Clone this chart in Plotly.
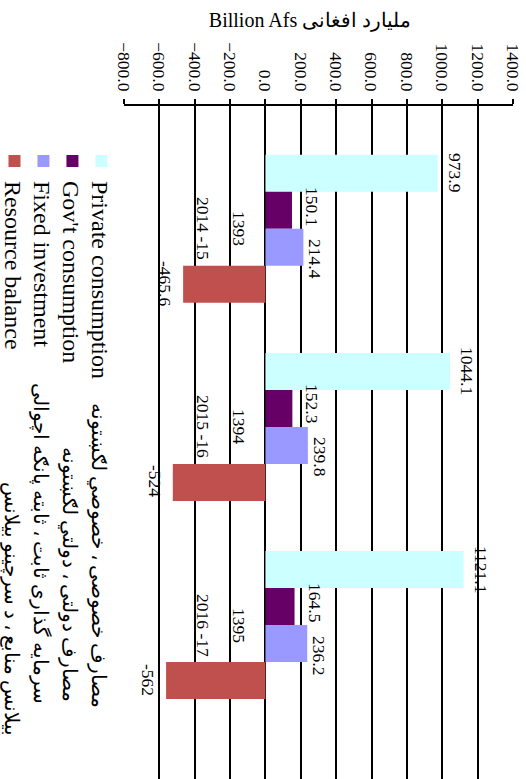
import plotly.graph_objects as go

# ---------------- data ----------------
fiscal_years = ["2014 -15", "2015 -16", "2016 -17"]
solar_years = ["1393", "1394", "1395"]

series_names = [
    "Private consumption",
    "Gov't consumption",
    "Fixed investment",
    "Resource balance",
]
series_names_local = [
    "مصارف خصوصی ، خصوصي لګښتونه",
    "مصارف دولتی ، دولتي لګښتونه",
    "سرمایه گذاری ثابت ، ثابته پانګه اچوالی",
    "بیلانس منابع ، د سرچینو بیلانس",
]
private_consumption = [973.9, 1044.1, 1121.1]
govt_consumption = [150.1, 152.3, 164.5]
fixed_investment = [214.4, 239.8, 236.2]
resource_balance = [-465.6, -524, -562]

axis_title = "Billion Afs ملیارد افغانی"

# ---------------- style ----------------
colors = ["#CCFFFF", "#660066", "#9999FF", "#C0504D"]
name_gaps = [4, 14, 6, 22]          # spacing between English and local names
label_offsets = [17, 20, 12, -18]   # px distance of value label centre beyond bar end
label_slides = [0, -4, 12, -1]      # px slide of value label along the category direction
FONT = "Liberation Serif, Times New Roman, serif"

# figure is drawn "upright" (779 x 526) and turned a quarter turn clockwise in the page
W, H = 779, 526
ML, MR, MT, MB = 106, 0, 12.7, 124
PW, PH = W - ML - MR, H - MT - MB
X_RANGE = [-0.62, 2.777]
BARGAP = 0.253
N_SER = 4
CAT_PX = PW / (X_RANGE[1] - X_RANGE[0])
BAR_PX = CAT_PX * (1 - BARGAP) / N_SER


def py(px_y):
    """pixel row (from top) -> paper y"""
    return 1 - (px_y - MT) / PH


def px(px_x):
    """pixel column -> paper x"""
    return (px_x - ML) / PW


all_values = [private_consumption, govt_consumption, fixed_investment, resource_balance]

fig = go.Figure()
annotations = []
for i, (name, local, vals, col) in enumerate(zip(series_names, series_names_local, all_values, colors)):
    lg = "legend" if i == 0 else f"legend{i+1}"
    fig.add_trace(go.Bar(
        x=fiscal_years,
        y=vals,
        name=name + "\u00a0" * name_gaps[i] + f'<span style="font-size:20px">{local}</span>',
        marker=dict(color=col, line=dict(width=0)),
        legend=lg,
        hoverinfo="skip",
    ))
    # value labels just beyond each bar end
    for fy, v in zip(fiscal_years, vals):
        annotations.append(dict(
            x=fy, y=v, xref="x", yref="y", text=f"{v:g}", showarrow=False,
            xanchor="center", yanchor="middle",
            xshift=(i - (N_SER - 1) / 2) * BAR_PX + label_slides[i],
            yshift=label_offsets[i],
            font=dict(family=FONT, size=17.5, color="black"),
        ))

legend_rows = [425, 454, 483, 512]
layout_legends = {}
for i, row in enumerate(legend_rows):
    key = "legend" if i == 0 else f"legend{i+1}"
    layout_legends[key] = dict(
        x=px(141), y=py(row), xanchor="left", yanchor="middle",
        font=dict(family=FONT, size=24, color="black"),
        bgcolor="rgba(0,0,0,0)", borderwidth=0,
    )

for fy, sy in zip(fiscal_years, solar_years):
    annotations.append(dict(x=fy, y=0, xref="x", yref="y", text=sy, showarrow=False,
                            xanchor="center", yanchor="middle", yshift=-26,
                            font=dict(family=FONT, size=17.5, color="black")))
    annotations.append(dict(x=fy, y=0, xref="x", yref="y", text=fy, showarrow=False,
                            xanchor="center", yanchor="middle", yshift=-62,
                            font=dict(family=FONT, size=17.5, color="black")))
annotations.append(dict(x=px(20), y=py(216), xref="paper", yref="paper", text=axis_title,
                        showarrow=False, textangle=-90, xanchor="center", yanchor="middle",
                        font=dict(family=FONT, size=20, color="black")))

fig.update_layout(
    width=W, height=H,
    margin=dict(l=ML, r=MR, t=MT, b=MB, pad=0, autoexpand=False),
    paper_bgcolor="white", plot_bgcolor="white",
    barmode="group", bargap=BARGAP, bargroupgap=0,
    showlegend=True,
    annotations=annotations,
    **layout_legends,
)
fig.update_xaxes(
    type="category", range=X_RANGE,
    showticklabels=False, ticks="", showline=False, showgrid=False, zeroline=False,
)
fig.update_yaxes(
    range=[-800, 1400], dtick=200, tick0=0, tickformat=".1f",
    ticks="outside", ticklen=5, tickwidth=2, tickcolor="black",
    showline=True, linewidth=2, linecolor="black",
    showgrid=True, gridcolor="black", gridwidth=2.2, zeroline=False,
    tickfont=dict(family=FONT, size=17.5, color="black"),
    ticklabelstandoff=4, automargin=False,
)

post = """
var gd = document.getElementById('{plot_id}');
document.documentElement.style.overflow = 'hidden';
document.body.style.margin = '0';
document.body.style.overflow = 'hidden';
gd.style.position = 'absolute';
gd.style.left = '0px';
gd.style.top = '0px';
gd.style.width = '779px';
gd.style.height = '526px';
gd.style.transformOrigin = '0px 0px';
gd.style.transform = 'translate(526px, 0px) rotate(90deg)';
"""

fig.write_html("out.html", config={"displayModeBar": False, "responsive": False},
               default_width="779px", default_height="526px", post_script=post)
